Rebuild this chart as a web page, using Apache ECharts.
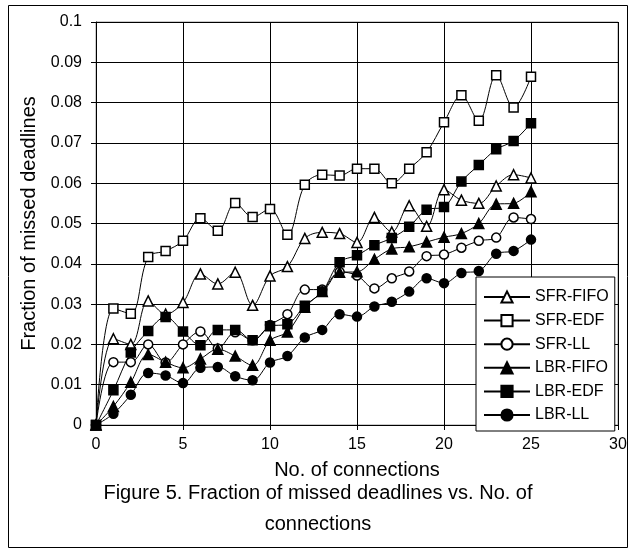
<!DOCTYPE html>
<html>
<head>
<meta charset="utf-8">
<script src="https://cdn.jsdelivr.net/npm/echarts@6/dist/echarts.min.js"></script>
<style>
  html, body {margin: 0; padding: 0; background: #fff;}
  #chart {width: 636px; height: 553px;}
</style>
</head>
<body>
<div id="chart"></div>
<script>
// x values: number of connections
const connections = [0, 1, 2, 3, 4, 5, 6, 7, 8, 9, 10, 11, 12, 13, 14, 15, 16, 17, 18, 19, 20, 21, 22, 23, 24, 25];

const sfrFifo = [0, 0.0214, 0.0200, 0.0308, 0.0275, 0.0304, 0.0375, 0.0350, 0.0379, 0.0297, 0.0370, 0.0393, 0.0463, 0.0478, 0.0475, 0.0453, 0.0515, 0.0479, 0.0544, 0.0493, 0.0584, 0.0558, 0.0550, 0.0593, 0.0621, 0.0613];
const sfrEdf = [0, 0.0289, 0.0276, 0.0417, 0.0432, 0.0457, 0.0513, 0.0482, 0.0551, 0.0516, 0.0536, 0.0472, 0.0596, 0.0621, 0.0619, 0.0636, 0.0636, 0.0600, 0.0636, 0.0677, 0.0751, 0.0818, 0.0755, 0.0868, 0.0788, 0.0864];
const sfrLl = [0, 0.0156, 0.0156, 0.0200, 0.0155, 0.0200, 0.0232, 0.0190, 0.0230, 0.0210, 0.0248, 0.0275, 0.0336, 0.0336, 0.0380, 0.0371, 0.0339, 0.0364, 0.0381, 0.0419, 0.0423, 0.0440, 0.0457, 0.0465, 0.0515, 0.0511];
const lbrFifo = [0, 0.0046, 0.0106, 0.0175, 0.0156, 0.0142, 0.0164, 0.0188, 0.0171, 0.0148, 0.0210, 0.0231, 0.0292, 0.0331, 0.0379, 0.0380, 0.0411, 0.0437, 0.0442, 0.0454, 0.0466, 0.0475, 0.0500, 0.0548, 0.0550, 0.0579];
const lbrEdf = [0, 0.0086, 0.0180, 0.0233, 0.0268, 0.0232, 0.0198, 0.0236, 0.0236, 0.0210, 0.0245, 0.0250, 0.0296, 0.0331, 0.0404, 0.0421, 0.0446, 0.0464, 0.0492, 0.0534, 0.0541, 0.0604, 0.0645, 0.0684, 0.0705, 0.0749];
const lbrLl = [0, 0.0028, 0.0075, 0.0129, 0.0123, 0.0104, 0.0142, 0.0144, 0.0121, 0.0111, 0.0155, 0.0171, 0.0217, 0.0236, 0.0275, 0.0269, 0.0294, 0.0306, 0.0331, 0.0364, 0.0352, 0.0377, 0.0382, 0.0425, 0.0432, 0.0460];

const seriesNames = ['SFR-FIFO', 'SFR-EDF', 'SFR-LL', 'LBR-FIFO', 'LBR-EDF', 'LBR-LL'];
const seriesValues = [sfrFifo, sfrEdf, sfrLl, lbrFifo, lbrEdf, lbrLl];
const symbols = ['triangle', 'rect', 'circle', 'triangle', 'rect', 'circle'];
const filled = [false, false, false, true, true, true];

const captionLines = ['Figure 5. Fraction of missed deadlines vs. No. of', 'connections'];

const font = 'Liberation Sans, Arial, sans-serif';

let myChart = echarts.init(document.getElementById('chart'));

const series = seriesNames.map((name, i) => ({
    name: name,
    type: 'line',
    data: connections.map((x, j) => [x, seriesValues[i][j]]),
    symbol: symbols[i],
    symbolSize: symbols[i] === 'triangle' ? 10 : 9,
    smooth: 0.35,
    lineStyle: {color: '#000', width: 1},
    itemStyle: {
        color: filled[i] ? '#000' : '#fff',
        borderColor: '#000',
        borderWidth: 1.5
    },
    emphasis: {disabled: true},
    animation: false
}));

let option = {
    animation: false,
    grid: {
        left: 96,
        top: 22,
        right: 18,
        bottom: 128,
        show: true,
        borderColor: '#999',
        borderWidth: 1
    },
    xAxis: {
        type: 'value',
        min: 0,
        max: 30,
        interval: 5,
        name: 'No. of connections',
        nameLocation: 'middle',
        nameGap: 35,
        nameTextStyle: {fontFamily: font, fontSize: 20, color: '#000'},
        axisLine: {show: true, lineStyle: {color: '#000', width: 1}},
        axisTick: {show: true, inside: false, length: 5, lineStyle: {color: '#000'}},
        axisLabel: {fontFamily: font, fontSize: 16, color: '#000', margin: 12},
        splitLine: {show: true, lineStyle: {color: '#000', width: 1}}
    },
    yAxis: {
        type: 'value',
        min: 0,
        max: 0.1,
        interval: 0.01,
        name: 'Fraction of missed deadlines',
        nameLocation: 'middle',
        nameGap: 47,
        nameTextStyle: {fontFamily: font, fontSize: 20, color: '#000'},
        axisLine: {show: true, lineStyle: {color: '#000', width: 1}},
        axisTick: {show: true, inside: false, length: 5, lineStyle: {color: '#000'}},
        axisLabel: {
            fontFamily: font, fontSize: 16, color: '#000', margin: 14,
            formatter: (v) => String(Math.round(v * 100) / 100)
        },
        splitLine: {show: true, lineStyle: {color: '#000', width: 1}}
    },
    legend: {
        orient: 'vertical',
        left: 476,
        top: 277,
        data: seriesNames,
        itemWidth: 46,
        itemHeight: 14,
        itemGap: 7.6,
        padding: [12, 6, 8, 7],
        backgroundColor: '#fff',
        borderColor: '#000',
        borderWidth: 1,
        borderRadius: 0,
        textStyle: {fontFamily: font, fontSize: 16, color: '#000'},
        selectedMode: false
    },
    graphic: [
        {
            type: 'rect',
            shape: {x: 8.5, y: 5.5, width: 619, height: 542},
            style: {fill: 'none', stroke: '#000', lineWidth: 1},
            silent: true
        },
        {
            type: 'text',
            left: 'center',
            top: 483,
            style: {text: captionLines[0], font: '20px ' + font, fill: '#000'}
        },
        {
            type: 'text',
            left: 'center',
            top: 514,
            style: {text: captionLines[1], font: '20px ' + font, fill: '#000'}
        }
    ],
    series: series
};

myChart.setOption(option);
</script>
</body>
</html>
